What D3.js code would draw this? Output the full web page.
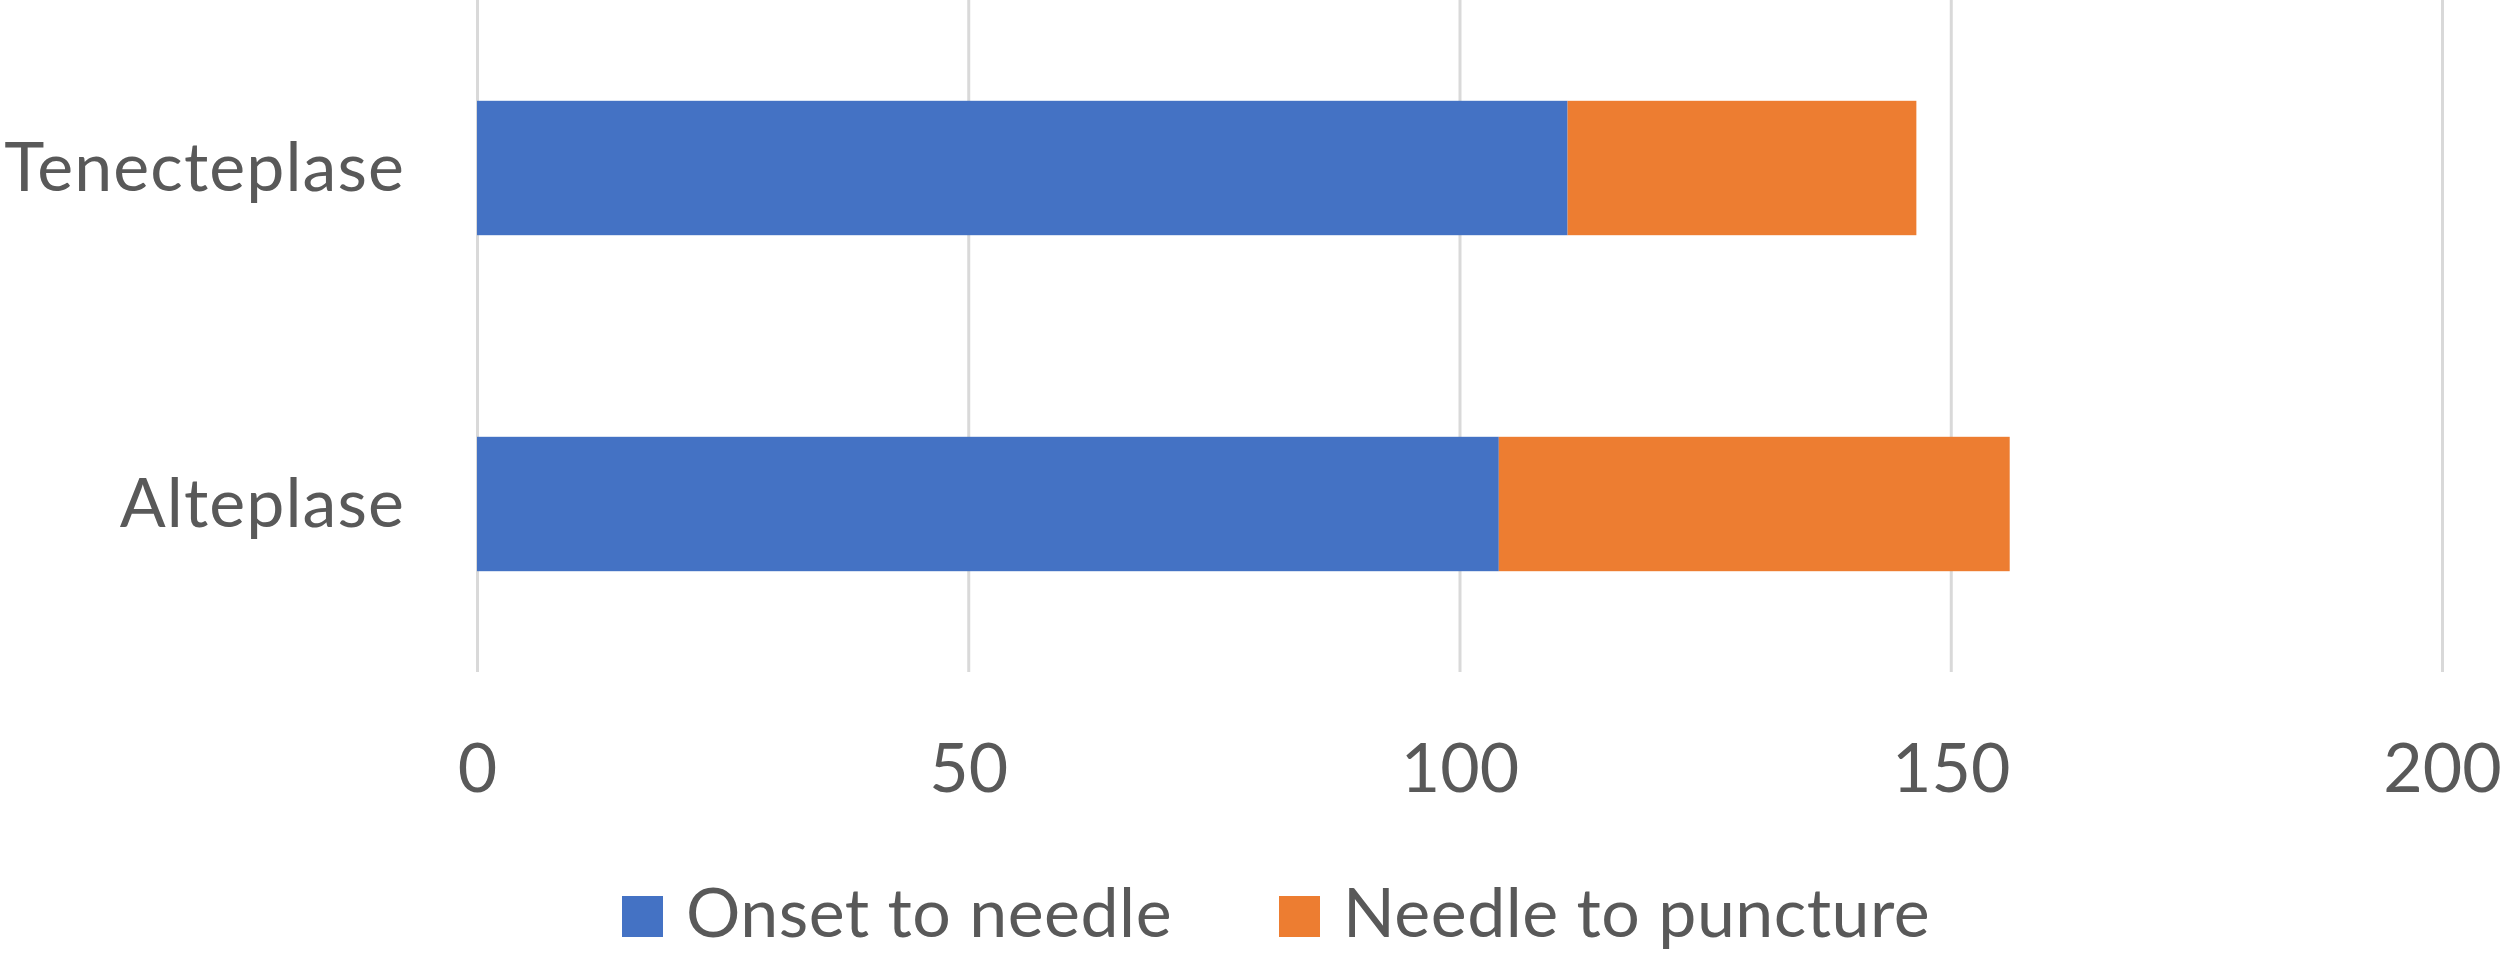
<!DOCTYPE html>
<html>
<head>
<meta charset="utf-8">
<script src="https://cdn.jsdelivr.net/npm/d3@7"></script>
<style>
  body { margin: 0; background: #fff; }
  text { font-family: Lato, "Open Sans", sans-serif; fill: #595959; }
</style>
</head>
<body>
<div id="chart"></div>
<script>
// data
var categories = ["Tenecteplase", "Alteplase"];
var seriesNames = ["Onset to needle", "Needle to puncture"];
var onsetToNeedle = [111, 104];
var needleToPuncture = [35.5, 52];
var xTicks = [0, 50, 100, 150, 200];
var colors = ["#4472C4", "#ED7D31"];

var width = 2500;
var height = 962;
var fontSize = 68;

var svg = d3.select("#chart")
  .append("svg")
  .attr("width", width)
  .attr("height", height);

var x = d3.scaleLinear().domain([0, 200]).range([477, 2442]);
var y = d3.scaleBand()
  .domain(categories)
  .range([0, 672])
  .paddingInner(0.6)
  .paddingOuter(0.3);

// gridlines + tick labels
var xAxis = svg.append("g")
  .attr("class", "x axis")
  .attr("transform", "translate(0,672)")
  .call(d3.axisBottom(x).tickValues(xTicks).tickSize(-672).tickFormat(d3.format("d")));

xAxis.select(".domain").remove();
xAxis.selectAll(".tick line")
  .attr("stroke", "#d9d9d9")
  .attr("stroke-width", 3);
xAxis.selectAll(".tick text")
  .attr("y", 120)
  .attr("dy", 0)
  .attr("font-size", fontSize)
  .style("font-family", "Lato, sans-serif")
  .attr("fill", "#595959");

// stacked rows
var rows = categories.map(function (c, i) {
  return { cat: c, v: [onsetToNeedle[i], needleToPuncture[i]] };
});

var stack = d3.stack().keys([0, 1]).value(function (d, k) { return d.v[k]; });
var layers = stack(rows);

svg.append("g")
  .selectAll("g")
  .data(layers)
  .join("g")
  .attr("fill", function (d, i) { return colors[i]; })
  .selectAll("rect")
  .data(function (d) { return d; })
  .join("rect")
  .attr("x", function (d) { return x(d[0]); })
  .attr("width", function (d) { return x(d[1]) - x(d[0]); })
  .attr("y", function (d) { return y(d.data.cat); })
  .attr("height", y.bandwidth());

// category labels
svg.append("g")
  .selectAll("text")
  .data(categories)
  .join("text")
  .attr("x", 405)
  .attr("y", function (d) { return y(d) + y.bandwidth() / 2 + 23; })
  .attr("text-anchor", "end")
  .attr("font-size", fontSize)
  .attr("letter-spacing", 1.1)
  .text(function (d) { return d; });

// legend
var legendX = [622, 1279];
var legend = svg.append("g")
  .selectAll("g")
  .data(seriesNames)
  .join("g")
  .attr("transform", function (d, i) { return "translate(" + legendX[i] + ",896)"; });

legend.append("rect")
  .attr("width", 41)
  .attr("height", 41)
  .attr("fill", function (d, i) { return colors[i]; });

legend.append("text")
  .attr("x", 64)
  .attr("y", 41)
  .attr("font-size", fontSize)
  .attr("letter-spacing", 0.5)
  .text(function (d) { return d; });
</script>
</body>
</html>
